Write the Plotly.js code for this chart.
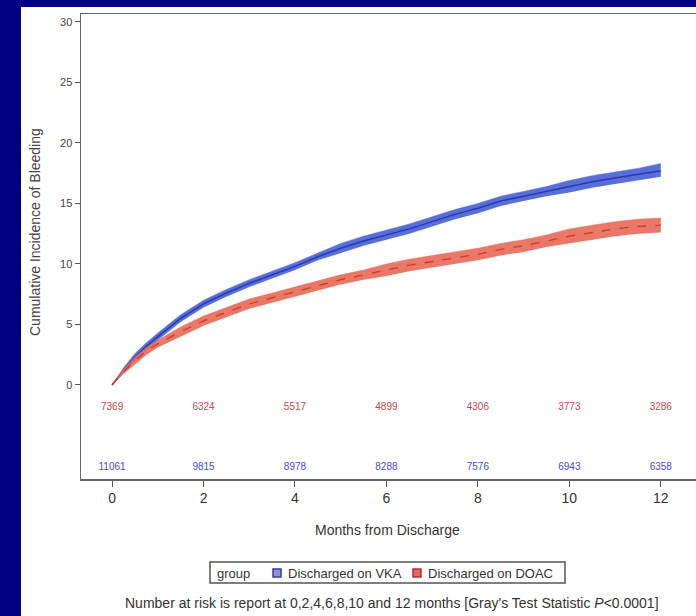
<!DOCTYPE html>
<html>
<head>
<meta charset="utf-8">
<script src="https://cdn.plot.ly/plotly-3.0.1.min.js"></script>
<style>html,body{margin:0;padding:0;background:#000080;}#chart{width:696px;height:616px;}</style>
</head>
<body>
<div id="chart"></div>
<script>
// Months from discharge
const months = [0,0.25,0.5,0.75,1,1.5,2,2.5,3,3.5,4,4.5,5,5.5,6,6.5,7,7.5,8,8.5,9,9.5,10,10.5,11,11.5,12];
// Discharged on VKA: cumulative incidence (%) and confidence band
const vkaCif = [0,1.2,2.3,3.2,4.0,5.5,6.7,7.6,8.4,9.1,9.8,10.6,11.3,11.9,12.4,12.9,13.5,14.1,14.6,15.2,15.6,16.0,16.4,16.8,17.1,17.4,17.7];
const vkaLo  = [0,1.0,2.0,2.9,3.7,5.2,6.4,7.3,8.1,8.8,9.5,10.3,10.9,11.5,12.0,12.5,13.1,13.7,14.2,14.8,15.2,15.6,15.9,16.3,16.6,16.9,17.2];
const vkaHi  = [0,1.4,2.6,3.5,4.3,5.8,7.0,7.9,8.7,9.4,10.1,10.9,11.7,12.3,12.8,13.3,13.9,14.5,15.0,15.6,16.0,16.4,16.9,17.3,17.6,17.9,18.3];
// Discharged on DOAC
const doacCif = [0,1.1,2.0,2.8,3.4,4.4,5.3,6.0,6.7,7.2,7.7,8.2,8.7,9.1,9.5,9.9,10.2,10.5,10.8,11.2,11.5,11.9,12.3,12.6,12.9,13.1,13.2];
const doacLo  = [0,0.9,1.7,2.5,3.1,4.0,4.9,5.6,6.3,6.8,7.3,7.8,8.3,8.7,9.0,9.4,9.7,10.0,10.3,10.7,11.0,11.4,11.7,12.0,12.3,12.5,12.6];
const doacHi  = [0,1.3,2.3,3.1,3.7,4.8,5.7,6.4,7.1,7.6,8.1,8.6,9.1,9.5,10.0,10.4,10.7,11.0,11.3,11.7,12.0,12.4,12.9,13.2,13.5,13.7,13.8];
// Number at risk
const riskMonths = [0,2,4,6,8,10,12];
const riskDoac = [7369,6324,5517,4899,4306,3773,3286];
const riskVka  = [11061,9815,8978,8288,7576,6943,6358];
const seriesNames = ['Discharged on VKA','Discharged on DOAC'];
const yTicks = [0,5,10,15,20,25,30];

const FONT = '"Liberation Sans", Arial, sans-serif';
const blueFill = 'rgba(70,95,215,0.9)', blueLine = '#2c3aa8';
const redFill = 'rgba(232,105,85,0.9)', redLine = '#c83a30';

const traces = [
  {x: months, y: vkaLo, mode:'lines', line:{width:0, color:blueFill}, showlegend:false, hoverinfo:'skip'},
  {x: months, y: vkaHi, mode:'lines', fill:'tonexty', fillcolor:blueFill, line:{width:0.5, color:blueFill}, showlegend:false, hoverinfo:'skip'},
  {x: months, y: vkaCif, mode:'lines', line:{width:1.5, color:blueLine}, showlegend:false},
  {x: months, y: doacLo, mode:'lines', line:{width:0, color:redFill}, showlegend:false, hoverinfo:'skip'},
  {x: months, y: doacHi, mode:'lines', fill:'tonexty', fillcolor:redFill, line:{width:0.5, color:redFill}, showlegend:false, hoverinfo:'skip'},
  {x: months, y: doacCif, mode:'lines', line:{width:1.3, color:redLine, dash:'dash'}, showlegend:false},
  {x: riskMonths, y: riskDoac.map(()=>-1.9), mode:'text', text: riskDoac.map(String), textfont:{family:FONT, size:10, color:'#c8484a'}, showlegend:false, hoverinfo:'skip'},
  {x: riskMonths, y: riskVka.map(()=>-6.8), mode:'text', text: riskVka.map(String), textfont:{family:FONT, size:10, color:'#4a4ad8'}, showlegend:false, hoverinfo:'skip'}
];

// helpers: pixel -> paper for the manual legend and titles
const PX = px => (px-81)/615, PY = py => (479-py)/465;
const ann = (x, y, text, size, extra) => Object.assign({xref:'paper', yref:'paper', x:PX(x), y:PY(y), text:text, showarrow:false,
  xanchor:'center', yanchor:'middle', font:{family:FONT, size:size, color:'#333'}}, extra || {});

const layout = {
  width:696, height:616,
  margin:{l:81, r:0, t:14, b:137},
  paper_bgcolor:'#000080', plot_bgcolor:'#ffffff',
  font:{family:FONT, color:'#333'},
  showlegend:false,
  xaxis:{range:[-0.68,12.77], tickvals:riskMonths, ticktext:riskMonths.map(String), ticks:'outside', ticklen:6, tickcolor:'#555',
         showline:true, mirror:true, linecolor:'#666', linewidth:1.5, showgrid:false, zeroline:false,
         tickfont:{family:FONT, size:14, color:'#333'}},
  yaxis:{range:[-7.77,30.66], tickvals:yTicks, ticks:'outside', ticklen:5, tickcolor:'#555',
         showline:true, linecolor:'#666', linewidth:1.5, showgrid:false, zeroline:false,
         tickfont:{family:FONT, size:11, color:'#444'}},
  shapes:[
    {type:'rect', xref:'paper', yref:'paper', x0:-0.0976, x1:1.0, y0:-0.2946, y1:1.015, fillcolor:'#ffffff', line:{width:0}, layer:'below'},
    {type:'rect', xref:'paper', yref:'paper', x0:PX(210), x1:PX(565), y0:PY(583), y1:PY(562), fillcolor:'rgba(0,0,0,0)', line:{color:'#555', width:1.5}},
    {type:'rect', xref:'paper', yref:'paper', x0:PX(273), x1:PX(281), y0:PY(577), y1:PY(569), fillcolor:'#8a93d8', line:{color:'#3a3aa0', width:1.5}},
    {type:'rect', xref:'paper', yref:'paper', x0:PX(413), x1:PX(421), y0:PY(577), y1:PY(569), fillcolor:'#e06a60', line:{color:'#b03030', width:1.5}}
  ],
  annotations:[
    ann(35, 232, 'Cumulative Incidence of Bleeding', 14, {textangle:-90, font:{family:FONT, size:14, color:'#444'}}),
    ann(387, 530, 'Months from Discharge', 14),
    ann(215, 573, 'group', 13, {xanchor:'left'}),
    ann(286, 573, seriesNames[0], 13, {xanchor:'left'}),
    ann(426, 573, seriesNames[1], 13, {xanchor:'left'}),
    ann(392, 603, "Number at risk is report at 0,2,4,6,8,10 and 12 months [Gray's Test Statistic <i>P</i>&lt;0.0001]", 14)
  ]
};

Plotly.newPlot('chart', traces, layout, {displayModeBar:false, staticPlot:true});
</script>
</body>
</html>
